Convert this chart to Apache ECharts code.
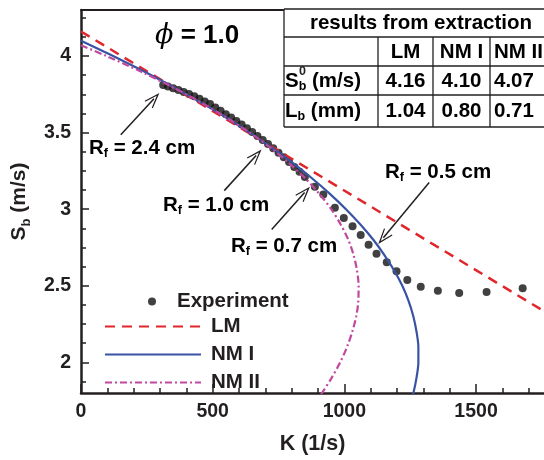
<!DOCTYPE html>
<html>
<head>
<meta charset="utf-8">
<script src="https://cdn.jsdelivr.net/npm/echarts@6/dist/echarts.min.js"></script>
<style>
  html, body { margin: 0; padding: 0; background: #fff; }
  #chart { width: 544px; height: 460px; }
</style>
</head>
<body>
<div id="chart"></div>
<script>
// experiment, K (1/s) vs Sb (m/s)
const expK = [312, 330, 350, 370, 390, 410, 430, 450, 470, 490, 510, 530, 550, 570, 590, 610, 630, 650,
  670, 690, 710, 730, 750, 770, 790, 810, 830, 850, 888, 920, 964, 998, 1031, 1062, 1092, 1122, 1161,
  1198, 1239, 1290, 1355, 1436, 1540, 1677];
const expSb = [3.810, 3.800, 3.790, 3.778, 3.765, 3.752, 3.737, 3.720, 3.703, 3.686, 3.664, 3.642, 3.620,
  3.598, 3.575, 3.552, 3.528, 3.503, 3.478, 3.452, 3.425, 3.397, 3.368, 3.339, 3.308, 3.276, 3.244,
  3.210, 3.147, 3.095, 3.010, 2.943, 2.889, 2.831, 2.767, 2.709, 2.653, 2.595, 2.537, 2.494, 2.468,
  2.453, 2.459, 2.483];

// linear model (straight line)
const lmK = [0, 1800];
const lmSb = [4.16, 2.29];

// nonlinear model I
const nm1K = [0, 122, 238, 348, 451, 549, 640, 726, 805, 878, 945, 1006, 1061, 1110, 1152, 1189, 1220,
  1244, 1262, 1274, 1281, 1281, 1274, 1262, 1244];
const nm1Sb = [4.10, 4.0, 3.9, 3.8, 3.7, 3.6, 3.5, 3.4, 3.3, 3.2, 3.1, 3.0, 2.9, 2.8, 2.7, 2.6, 2.5,
  2.4, 2.3, 2.2, 2.1, 2.0, 1.9, 1.8, 1.7];

// nonlinear model II
const nm2K = [0, 96, 225, 343, 452, 550, 640, 720, 790, 852, 905, 950, 986, 1015, 1035, 1048, 1054,
  1053, 1045, 1030, 1010, 984, 952, 915, 873];
const nm2Sb = [4.07, 4.0, 3.9, 3.8, 3.7, 3.6, 3.5, 3.4, 3.3, 3.2, 3.1, 3.0, 2.9, 2.8, 2.7, 2.6, 2.5,
  2.4, 2.3, 2.2, 2.1, 2.0, 1.9, 1.8, 1.7];

// visible axis range (the figure is cut at the right)
const xMin = 0, xMax = 1758;
const yMin = 1.8, yMax = 4.3;
const xMajor = [0, 500, 1000, 1500];
const xMinor = [100, 200, 300, 400, 600, 700, 800, 900, 1100, 1200, 1300, 1400, 1600, 1700];
const yMajor = [2, 2.5, 3, 3.5, 4];
const yMinor = [1.875, 2.125, 2.25, 2.375, 2.625, 2.75, 2.875, 3.125, 3.25, 3.375, 3.625, 3.75, 3.875,
  4.125, 4.25];

// results table
const tableModels = ['LM', 'NM I', 'NM II'];
const tableSb0 = ['4.16', '4.10', '4.07'];
const tableLb = ['1.04', '0.80', '0.71'];

// flame radius annotations: arrow tail / head in data units
const rfLabels = ['2.4', '1.0', '0.7', '0.5'];
const arrowFrom = [[151, 3.485], [544, 3.121], [724, 2.867], [1322, 3.174]];
const arrowTo = [[277, 3.720], [665, 3.350], [849, 3.108], [1148, 2.813]];

const pairs = (xs, ys) => xs.map((x, i) => [x, ys[i]]);

const FONT = '"Liberation Sans", Arial, Helvetica, sans-serif';
const INK = '#231f20';
const RED = '#e1262b';
const BLUE = '#3953a4';
const MAGENTA = '#c048a0';

const richSub = {
  m: { fontSize: 20.5, fontWeight: 'bold', fontFamily: FONT, color: INK, lineHeight: 25 },
  s: { fontSize: 12.5, fontWeight: 'bold', fontFamily: FONT, color: INK, verticalAlign: 'bottom' }
};

function label(x, y, text, align) {
  return {
    type: 'text', x: x, y: y, z: 100,
    style: { text: text, rich: richSub, align: align || 'left', verticalAlign: 'middle' }
  };
}

function line(x1, y1, x2, y2) {
  return {
    type: 'line', z: 99,
    shape: { x1: x1, y1: y1, x2: x2, y2: y2 },
    style: { stroke: INK, lineWidth: 1.3 }
  };
}

// table layout
const colX = [284, 378, 433, 490, 560];
const rowY = [9, 37, 66, 95, 127];
const graphic = [
  { type: 'rect', z: 98, shape: { x: colX[0], y: rowY[0], width: colX[4] - colX[0], height: rowY[4] - rowY[0] },
    style: { fill: '#fff' } }
];
rowY.forEach(y => graphic.push(line(colX[0], y, colX[4], y)));
graphic.push(line(colX[0], rowY[0], colX[0], rowY[4]));
[1, 2, 3].forEach(i => graphic.push(line(colX[i], rowY[1], colX[i], rowY[4])));
graphic.push(label(421, 23, '{m|results from extraction}', 'center'));
const colCenter = [405.5, 461.5, 494];
const colAlign = ['center', 'center', 'left'];
tableModels.forEach((t, i) => graphic.push(label(colCenter[i], 52, '{m|' + t + '}', colAlign[i])));
tableSb0.forEach((t, i) => graphic.push(label(colCenter[i], 81, '{m|' + t + '}', colAlign[i])));
tableLb.forEach((t, i) => graphic.push(label(colCenter[i], 111, '{m|' + t + '}', colAlign[i])));
graphic.push(label(285, 81, '{m|S}{s|b}{m| (m/s)}'));
graphic.push({
  type: 'text', x: 299, y: 72, z: 100,
  style: { text: '0', fontSize: 12.5, fontWeight: 'bold', fontFamily: FONT, fill: INK, align: 'left', verticalAlign: 'middle' }
});
graphic.push(label(285, 111, '{m|L}{s|b}{m| (mm)}'));

// equivalence ratio
graphic.push({
  type: 'text', x: 155, y: 36, z: 100,
  style: {
    text: '{p|ϕ}{v| = 1.0}', align: 'left', verticalAlign: 'middle',
    rich: {
      p: { fontSize: 27, fontStyle: 'italic', fontFamily: '"DejaVu Serif", serif', color: '#5d6fc2' },
      v: { fontSize: 26, fontWeight: 'bold', fontFamily: FONT, color: BLUE }
    }
  }
});

// Rf labels
const rfPos = [[89, 148], [163, 205], [231, 246], [385, 172]];
rfLabels.forEach((r, i) => graphic.push(label(rfPos[i][0], rfPos[i][1], '{m|R}{s|f}{m| = ' + r + ' cm}')));

const arrowHead = 'path://M0,0L5.5,16L4.4,16.4L0,4L-4.4,16.4L-5.5,16Z';

const tickFont = { fontSize: 19.5, fontWeight: 'bold', fontFamily: FONT, color: INK };
const legendFont = { fontSize: 20.5, fontWeight: 'bold', fontFamily: FONT, color: INK, lineHeight: 20 };
const plain = v => String(v);

const option = {
  animation: false,
  backgroundColor: '#fff',
  grid: { left: 81, top: 10, right: 0, height: 389 },
  xAxis: [
    {
      type: 'value', min: xMin, max: xMax, position: 'bottom',
      name: 'K (1/s)', nameLocation: 'middle', nameGap: 40,
      nameTextStyle: { fontSize: 21.5, fontWeight: 'bold', fontFamily: FONT, color: INK },
      axisLine: { onZero: false, lineStyle: { color: INK, width: 2.5 } },
      axisTick: { inside: true, length: 9, customValues: xMajor, lineStyle: { color: INK, width: 1.5 } },
      axisLabel: Object.assign({ customValues: xMajor, margin: 9, formatter: plain }, tickFont),
      splitLine: { show: false }
    },
    {
      type: 'value', min: xMin, max: xMax, position: 'bottom',
      axisLine: { show: false, onZero: false },
      axisTick: { inside: true, length: 5, customValues: xMinor, lineStyle: { color: INK, width: 1.5 } },
      axisLabel: { show: false },
      splitLine: { show: false }
    },
    {
      type: 'value', min: xMin, max: xMax, position: 'top',
      axisLine: { onZero: false, lineStyle: { color: INK, width: 2 } },
      axisTick: { show: false },
      axisLabel: { show: false },
      splitLine: { show: false }
    }
  ],
  yAxis: [
    {
      type: 'value', min: yMin, max: yMax, position: 'left',
      name: '{m|S}{s|b}{m| (m/s)}', nameLocation: 'middle', nameGap: 44,
      nameTextStyle: {
        rich: {
          m: { fontSize: 21, fontWeight: 'bold', fontFamily: FONT, color: INK, lineHeight: 27 },
          s: { fontSize: 13, fontWeight: 'bold', fontFamily: FONT, color: INK, verticalAlign: 'bottom' }
        }
      },
      axisLine: { onZero: false, lineStyle: { color: INK, width: 2.5 } },
      axisTick: { inside: true, length: 8, customValues: yMajor, lineStyle: { color: INK, width: 1.5 } },
      axisLabel: Object.assign({ customValues: yMajor, margin: 10, formatter: plain }, tickFont),
      splitLine: { show: false }
    },
    {
      type: 'value', min: yMin, max: yMax, position: 'left',
      axisLine: { show: false, onZero: false },
      axisTick: { inside: true, length: 5, customValues: yMinor, lineStyle: { color: INK, width: 1.5 } },
      axisLabel: { show: false },
      splitLine: { show: false }
    }
  ],
  legend: [
    {
      data: ['Experiment'], orient: 'vertical', left: 143, top: 286, selectedMode: false,
      itemWidth: 40, itemHeight: 8,
      textStyle: legendFont
    },
    {
      data: ['LM', 'NM I', 'NM II'], orient: 'vertical', left: 99, top: 311, selectedMode: false,
      itemWidth: 96, itemHeight: 14, itemGap: 7,
      itemStyle: { opacity: 0 },
      textStyle: Object.assign({ padding: [0, 0, 0, 5] }, legendFont)
    }
  ],
  graphic: graphic,
  series: [
    {
      name: 'Experiment', type: 'scatter', data: pairs(expK, expSb),
      symbolSize: 8, itemStyle: { color: '#111' }
    },
    {
      name: 'LM', type: 'line', data: pairs(lmK, lmSb), symbol: 'none',
      itemStyle: { color: RED }, lineStyle: { color: RED, width: 2.5, type: [10, 7] }
    },
    {
      name: 'NM I', type: 'line', data: pairs(nm1K, nm1Sb), symbol: 'none', smooth: 0.3,
      itemStyle: { color: BLUE }, lineStyle: { color: BLUE, width: 2.2 }
    },
    {
      name: 'NM II', type: 'line', data: pairs(nm2K, nm2Sb), symbol: 'none', smooth: 0.3,
      itemStyle: { color: MAGENTA }, lineStyle: { color: MAGENTA, width: 2.2, type: [7, 3, 2, 3] }
    },
    {
      name: 'arrows', type: 'scatter', data: [], silent: true,
      markLine: {
        silent: true, symbol: ['none', arrowHead], symbolSize: [11, 16],
        label: { show: false },
        lineStyle: { color: INK, width: 1.5, type: 'solid' },
        data: arrowFrom.map((a, i) => [{ coord: a }, { coord: arrowTo[i] }])
      }
    }
  ]
};

const chart = echarts.init(document.getElementById('chart'));
chart.setOption(option);
</script>
</body>
</html>
